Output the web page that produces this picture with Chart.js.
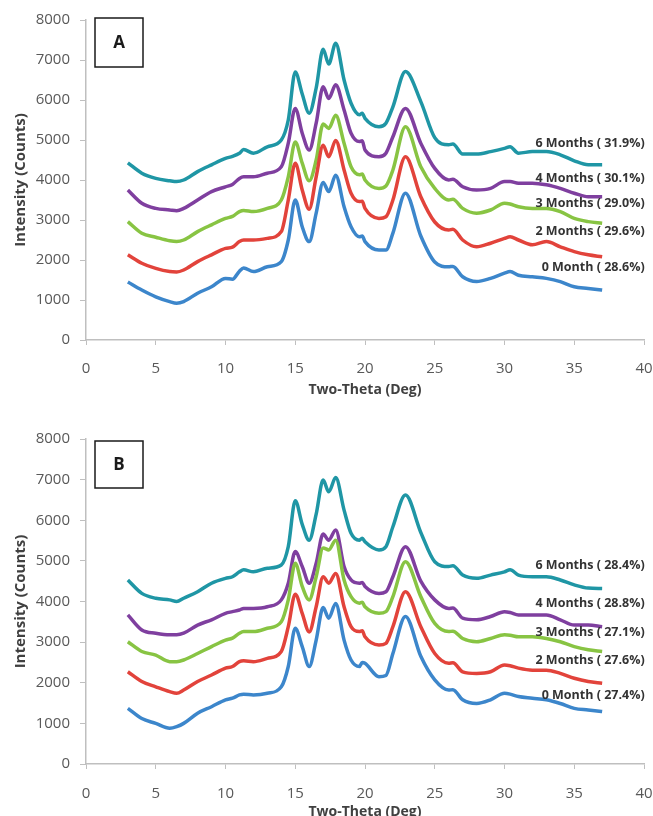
<!DOCTYPE html>
<html>
<head>
<meta charset="utf-8">
<script src="https://cdn.jsdelivr.net/npm/chart.js@4.4.1/dist/chart.umd.min.js"></script>
<style>
  html, body { margin: 0; padding: 0; background: #fff; overflow: hidden; }
  .panel { position: absolute; left: 0; }
  #panelA { top: 0; }
  #panelB { top: 400px; }
</style>
</head>
<body>
<div class="panel" id="panelA"><canvas id="graficoA" width="670" height="400"></canvas></div>
<div class="panel" id="panelB"><canvas id="graficoB" width="670" height="430"></canvas></div>
<script>
// angulos 2-theta donde se leyeron las curvas
const theta = [3, 4, 5, 6, 6.5, 7, 8, 9, 10, 10.5, 11, 11.3, 12, 13, 14, 14.5, 15, 15.5, 16, 16.5, 17, 17.4, 17.9, 18.5, 19, 19.6, 19.8, 20, 21, 21.5, 22, 22.9, 24, 25, 26, 26.3, 27, 28, 29, 30, 30.4, 31, 32, 33, 34, 35, 36, 37];

const meses = ['0 Month', '2 Months', '3 Months', '4 Months', '6 Months'];
const porcentajesA = ['28.6%', '29.6%', '29.0%', '30.1%', '31.9%'];
const porcentajesB = ['27.4%', '27.6%', '27.1%', '28.8%', '28.4%'];

// panel A
const a0Month = [1450, 1250, 1080, 960, 920, 960, 1170, 1330, 1540, 1520, 1720, 1800, 1710, 1830, 1960, 2500, 3500, 2830, 2460, 3170, 3940, 3710, 4120, 3330, 2830, 2580, 2600, 2460, 2250, 2250, 2670, 3670, 2600, 1950, 1830, 1840, 1580, 1460, 1540, 1670, 1710, 1620, 1580, 1540, 1460, 1330, 1290, 1250];
const a2Months = [2130, 1920, 1790, 1710, 1700, 1750, 1960, 2130, 2290, 2320, 2460, 2500, 2500, 2540, 2710, 3500, 4420, 3750, 3270, 4080, 4870, 4580, 4990, 4250, 3670, 3460, 3470, 3290, 3040, 3080, 3500, 4580, 3580, 2950, 2750, 2770, 2500, 2330, 2420, 2540, 2580, 2500, 2380, 2460, 2330, 2210, 2130, 2080];
const a3Months = [2960, 2670, 2570, 2480, 2460, 2500, 2710, 2880, 3040, 3090, 3210, 3240, 3210, 3290, 3500, 4080, 4950, 4420, 3980, 4500, 5400, 5290, 5620, 4920, 4330, 4130, 4150, 4000, 3790, 3850, 4250, 5330, 4330, 3790, 3500, 3520, 3290, 3170, 3250, 3420, 3400, 3330, 3290, 3290, 3210, 3040, 2960, 2920];
const a4Months = [3750, 3420, 3290, 3250, 3230, 3290, 3500, 3710, 3830, 3890, 4040, 4080, 4080, 4170, 4330, 4920, 5790, 5170, 4750, 5420, 6330, 6040, 6380, 5750, 5170, 4960, 4980, 4750, 4580, 4670, 5080, 5790, 4920, 4290, 4000, 4020, 3830, 3750, 3790, 3960, 3960, 3920, 3920, 3880, 3790, 3670, 3580, 3580];
const a6Months = [4430, 4170, 4040, 3980, 3960, 4000, 4210, 4380, 4540, 4590, 4670, 4760, 4670, 4830, 5000, 5500, 6700, 6150, 5670, 6300, 7270, 6900, 7420, 6500, 5920, 5630, 5670, 5540, 5330, 5420, 5830, 6710, 5960, 5060, 4880, 4900, 4650, 4650, 4710, 4790, 4830, 4670, 4710, 4710, 4630, 4480, 4380, 4380];

// panel B
const b0Month = [1370, 1120, 1000, 880, 920, 1000, 1250, 1410, 1580, 1620, 1700, 1720, 1700, 1740, 1900, 2400, 3340, 2890, 2400, 3050, 3850, 3590, 3950, 3050, 2560, 2400, 2500, 2480, 2150, 2180, 2720, 3630, 2650, 2070, 1820, 1830, 1580, 1490, 1580, 1740, 1720, 1660, 1620, 1580, 1490, 1370, 1330, 1290];
const b2Months = [2270, 2030, 1900, 1780, 1740, 1820, 2030, 2190, 2360, 2400, 2520, 2540, 2520, 2600, 2770, 3380, 4180, 3710, 3250, 3870, 4610, 4450, 4690, 3870, 3380, 3260, 3280, 3130, 2930, 2970, 3380, 4240, 3380, 2720, 2480, 2490, 2270, 2230, 2270, 2440, 2420, 2360, 2310, 2310, 2230, 2110, 2030, 1990];
const b3Months = [3010, 2770, 2680, 2520, 2520, 2560, 2720, 2890, 3050, 3100, 3220, 3260, 3260, 3340, 3500, 4040, 4940, 4370, 4040, 4610, 5320, 5270, 5510, 4530, 4120, 3960, 3980, 3870, 3710, 3750, 4120, 4980, 4120, 3460, 3260, 3270, 3090, 3010, 3090, 3180, 3170, 3130, 3130, 3090, 3010, 2890, 2810, 2770];
const b4Months = [3670, 3300, 3220, 3180, 3180, 3220, 3420, 3550, 3710, 3750, 3790, 3830, 3830, 3870, 4040, 4450, 5230, 4860, 4450, 4940, 5660, 5510, 5760, 4860, 4530, 4450, 4470, 4370, 4200, 4240, 4610, 5350, 4500, 4040, 3830, 3840, 3590, 3550, 3630, 3750, 3730, 3670, 3670, 3670, 3550, 3420, 3420, 3380];
const b6Months = [4530, 4200, 4080, 4040, 4000, 4080, 4240, 4450, 4570, 4610, 4730, 4780, 4730, 4820, 4900, 5350, 6480, 5900, 5510, 6150, 6990, 6700, 7050, 6250, 5680, 5510, 5560, 5470, 5270, 5350, 5840, 6620, 5700, 4980, 4860, 4880, 4650, 4570, 4650, 4730, 4780, 4650, 4610, 4610, 4530, 4410, 4330, 4320];

// altura (en cuentas) de cada rotulo de la derecha
const alturasA = [1825, 2725, 3425, 4050, 4925];
const alturasB = [1700, 2560, 3250, 3960, 4900];

const colores = ['#3c86cb', '#e2433b', '#88c443', '#7f3f9f', '#1f96a5'];
const gris = '#bfbfbf';

// dibuja el recuadro con la letra y los rotulos de las curvas
const rotulos = {
  id: 'rotulos',
  afterDatasetsDraw(chart, args, opts) {
    const { ctx, chartArea, scales: { x, y } } = chart;
    ctx.save();
    const bx = chartArea.left + 9;
    const by = chartArea.top + opts.boxTop;
    ctx.fillStyle = '#fff';
    ctx.fillRect(bx, by, 48, opts.boxH);
    ctx.strokeStyle = '#1a1a1a';
    ctx.lineWidth = 1.5;
    ctx.strokeRect(bx, by, 48, opts.boxH);
    ctx.fillStyle = '#1a1a1a';
    ctx.font = 'bold 17px "Open Sans"';
    ctx.textAlign = 'center';
    ctx.textBaseline = 'middle';
    ctx.fillText(opts.letra, bx + 24, by + opts.boxH / 2 + 1);

    ctx.font = 'bold 12.5px "Open Sans"';
    ctx.textAlign = 'right';
    ctx.fillStyle = '#333';
    opts.textos.forEach((t, i) => {
      ctx.fillText(t, x.getPixelForValue(40.05), y.getPixelForValue(opts.alturas[i]));
    });
    ctx.restore();
  }
};

function armarPuntos(valores) {
  return theta.map((t, i) => ({ x: t, y: valores[i] }));
}

function crearGrafico(id, series, porcentajes, alturas, letra, cfg) {
  const ctx = document.getElementById(id).getContext('2d');
  return new Chart(ctx, {
    type: 'line',
    data: {
      datasets: series.map((s, i) => ({
        label: meses[i],
        data: armarPuntos(s),
        borderColor: colores[i],
        borderWidth: 3.5,
        pointRadius: 0,
        cubicInterpolationMode: 'monotone',
        fill: false
      }))
    },
    options: {
      responsive: false,
      animation: false,
      devicePixelRatio: 1,
      layout: { padding: { top: cfg.top, right: 26, left: 0, bottom: 0 } },
      plugins: {
        legend: { display: false },
        tooltip: { enabled: false },
        rotulos: {
          letra,
          boxTop: cfg.boxTop,
          boxH: cfg.boxH,
          alturas,
          textos: meses.map((m, i) => `${m} ( ${porcentajes[i]})`)
        }
      },
      scales: {
        x: {
          type: 'linear',
          min: 0,
          max: 40,
          ticks: { stepSize: 5, color: '#595959', padding: cfg.xPad, font: { family: 'Open Sans', size: 15 } },
          grid: { display: true, drawOnChartArea: false, color: gris, tickLength: 5 },
          border: { color: gris, width: 1.5 },
          title: {
            display: true,
            text: 'Two-Theta (Deg)',
            color: '#404040',
            font: { family: 'Open Sans', size: 14, weight: 'bold' },
            padding: { top: 0, bottom: cfg.titlePad }
          },
          afterFit: (scale) => { scale.height = cfg.xH; }
        },
        y: {
          min: 0,
          max: 8000,
          ticks: {
            stepSize: 1000,
            color: '#595959',
            padding: 10,
            font: { family: 'Open Sans', size: 15 },
            callback: (v) => String(v)
          },
          grid: { display: true, drawOnChartArea: false, color: gris, tickLength: 6 },
          border: { color: gris, width: 1.5 },
          title: {
            display: true,
            text: 'Intensity (Counts)',
            color: '#404040',
            font: { family: 'Open Sans', size: 15, weight: 'bold' },
            padding: { top: 12, bottom: 0 }
          },
          afterFit: (scale) => { scale.width = 86; }
        }
      }
    },
    plugins: [rotulos]
  });
}

crearGrafico('graficoA', [a0Month, a2Months, a3Months, a4Months, a6Months], porcentajesA, alturasA, 'A',
  { top: 20, xH: 60, xPad: 15, titlePad: 2, boxTop: -2, boxH: 49 });
crearGrafico('graficoB', [b0Month, b2Months, b3Months, b4Months, b6Months], porcentajesB, alturasB, 'B',
  { top: 39, xH: 66, xPad: 16, titlePad: 10, boxTop: 2, boxH: 47 });
</script>
</body>
</html>
